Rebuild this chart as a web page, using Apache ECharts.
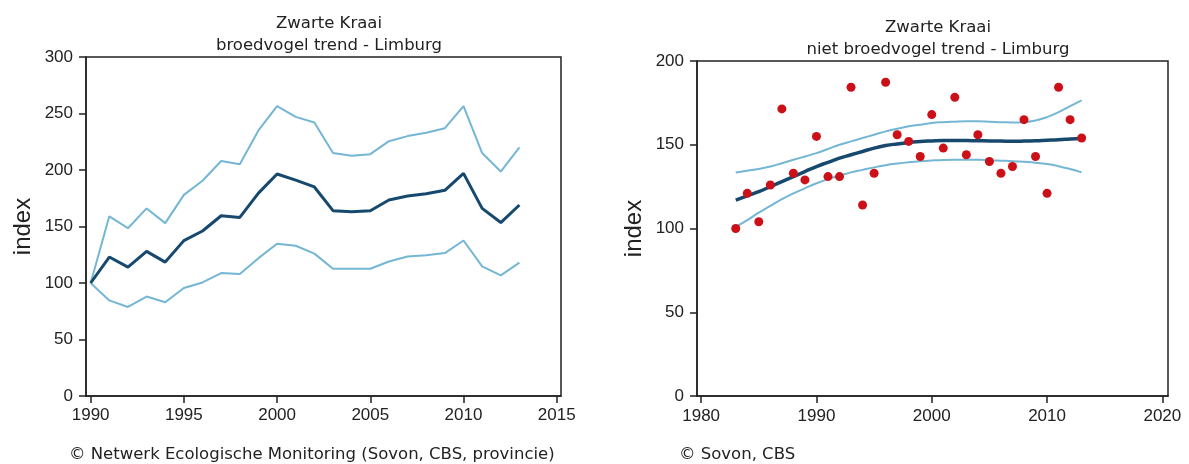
<!DOCTYPE html>
<html><head><meta charset="utf-8">
<script src="https://cdn.jsdelivr.net/npm/echarts@6/dist/echarts.min.js"></script>
<style>html,body{margin:0;padding:0;background:#fff}#c{width:1189px;height:464px}</style>
</head><body><div id="c"></div>
<script>
// Left chart: breeding bird trend
const yearsL = [1990,1991,1992,1993,1994,1995,1996,1997,1998,1999,2000,2001,2002,2003,2004,2005,2006,2007,2008,2009,2010,2011,2012,2013];
const trendL = [100,123,114,128,118.5,137.5,146,159.5,158,179.5,196.5,191,185,164,163,164,173.5,177,179,182,197,166,153.5,169];
const upperL = [100,159,148.5,166,153,178,190.5,208,205,235,256.5,247,242,215,212.7,214,225.5,230,233,237,256.5,215,198.6,220];
const lowerL = [100,84.6,78.8,88,83,95.6,100.5,108.8,108,122,134.7,133,126,112.6,112.6,112.6,119,123.5,124.5,126.5,137.6,114.7,106.7,118];
const xTicksL = [1990,1995,2000,2005,2010,2015];
const yTicksL = [0,50,100,150,200,250,300];

// Right chart: non-breeding trend
const yearsR = [1983,1984,1985,1986,1987,1988,1989,1990,1991,1992,1993,1994,1995,1996,1997,1998,1999,2000,2001,2002,2003,2004,2005,2006,2007,2008,2009,2010,2011,2012,2013];
const pointsR = [100,121,104,126,171.4,133,129,155,131,131,184.3,114,133,187.3,156,152,143,168,148,178.3,144,156,140,133,137,165,143,121,184.3,165,154];
const trendR = [117,119.5,122,125,128,131,134,137,139.5,142,144,146,148,149.5,150.5,151.3,152,152.3,152.5,152.5,152.5,152.4,152.3,152.2,152.1,152.2,152.4,152.7,153,153.4,153.8];
const upperR = [133.5,134.5,135.5,137,139,141,143,145,147.5,150,152,154,156,158,159.5,161,162,163,163.5,163.8,164,164,163.8,163.5,163.3,163.5,164.5,166.5,169.5,173,176.5];
const lowerR = [101,105,109.5,113.5,117.5,121,124,127,129.5,131.5,133.5,135,136.5,137.8,138.8,139.6,140.2,140.6,140.9,141,141,141,140.8,140.5,140.2,139.8,139.3,138.5,137.2,135.5,133.5];
const xTicksR = [1980,1990,2000,2010,2020];
const yTicksR = [0,50,100,150,200];

const pair = (xs, ys) => xs.map((x, i) => [x, ys[i]]);
const DARK = '#17496f', LIGHT = '#74b6d4', RED = '#cc1018';
const tickFont = {fontFamily: 'Liberation Sans', fontSize: 17, color: '#222', formatter: v => String(v)};
const axisLine = {show: true, lineStyle: {color: '#222', width: 1.5}};
const axisTick = (vals) => ({show: true, length: 7, lineStyle: {color: '#222', width: 1.5}, customValues: vals});
const txt = (size) => ({fontFamily: 'DejaVu Sans', fontSize: size, fontWeight: 'normal', color: '#222'});

const chart = echarts.init(document.getElementById('c'), null, {renderer: 'canvas'});
chart.setOption({
  animation: false,
  backgroundColor: '#fff',
  title: [
    {text: 'Zwarte Kraai\nbroedvogel trend - Limburg', left: 324, top: 8, textAlign: 'center',
     textStyle: Object.assign(txt(16.5), {lineHeight: 22})},
    {text: 'Zwarte Kraai\nniet broedvogel trend - Limburg', left: 933, top: 12, textAlign: 'center',
     textStyle: Object.assign(txt(16.5), {lineHeight: 22})},
    {text: '© Netwerk Ecologische Monitoring (Sovon, CBS, provincie)', left: 64, top: 441, textStyle: txt(16.5)},
    {text: '© Sovon, CBS', left: 674, top: 441, textStyle: txt(16.5)}
  ],
  grid: [
    {left: 86, right: 628, top: 57, bottom: 68, show: true, borderColor: '#222', borderWidth: 1.5, containLabel: false},
    {left: 697, right: 21, top: 61, bottom: 68, show: true, borderColor: '#222', borderWidth: 1.5, containLabel: false}
  ],
  xAxis: [
    {type: 'value', gridIndex: 0, min: 1989.75, max: 2015.23, splitLine: {show: false},
     axisLine: axisLine, axisTick: axisTick(xTicksL),
     axisLabel: Object.assign({customValues: xTicksL, margin: 11}, tickFont)},
    {type: 'value', gridIndex: 1, min: 1979.64, max: 2020.49, splitLine: {show: false},
     axisLine: axisLine, axisTick: axisTick(xTicksR),
     axisLabel: Object.assign({customValues: xTicksR, margin: 12}, tickFont)}
  ],
  yAxis: [
    {type: 'value', gridIndex: 0, min: 0, max: 300, splitLine: {show: false},
     axisLine: axisLine, axisTick: axisTick(yTicksL),
     axisLabel: Object.assign({customValues: yTicksL, margin: 13}, tickFont),
     name: 'index', nameLocation: 'middle', nameGap: 51, nameRotate: 90,
     nameTextStyle: {fontFamily: 'Liberation Sans', fontSize: 24, color: '#222'}},
    {type: 'value', gridIndex: 1, min: 0, max: 200, splitLine: {show: false},
     axisLine: axisLine, axisTick: axisTick(yTicksR),
     axisLabel: Object.assign({customValues: yTicksR, margin: 13}, tickFont),
     name: 'index', nameLocation: 'middle', nameGap: 51, nameRotate: 90,
     nameTextStyle: {fontFamily: 'Liberation Sans', fontSize: 24, color: '#222'}}
  ],
  series: [
    {type: 'line', xAxisIndex: 0, yAxisIndex: 0, data: pair(yearsL, upperL), showSymbol: false, lineStyle: {color: LIGHT, width: 2}},
    {type: 'line', xAxisIndex: 0, yAxisIndex: 0, data: pair(yearsL, lowerL), showSymbol: false, lineStyle: {color: LIGHT, width: 2}},
    {type: 'line', xAxisIndex: 0, yAxisIndex: 0, data: pair(yearsL, trendL), showSymbol: false, lineStyle: {color: DARK, width: 3}},
    {type: 'line', xAxisIndex: 1, yAxisIndex: 1, data: pair(yearsR, upperR), smooth: true, showSymbol: false, lineStyle: {color: LIGHT, width: 2}},
    {type: 'line', xAxisIndex: 1, yAxisIndex: 1, data: pair(yearsR, lowerR), smooth: true, showSymbol: false, lineStyle: {color: LIGHT, width: 2}},
    {type: 'line', xAxisIndex: 1, yAxisIndex: 1, data: pair(yearsR, trendR), smooth: true, showSymbol: false, lineStyle: {color: DARK, width: 3.5}},
    {type: 'scatter', xAxisIndex: 1, yAxisIndex: 1, data: pair(yearsR, pointsR), symbol: 'circle', symbolSize: 9, itemStyle: {color: RED, opacity: 1}, z: 5}
  ]
});
</script></body></html>
